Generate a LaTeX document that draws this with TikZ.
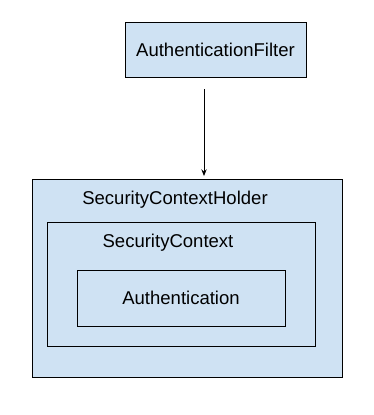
\documentclass[tikz,border=0pt]{standalone}
\usepackage{fontspec}
\setmainfont{Liberation Sans}
\usetikzlibrary{arrows.meta}
\definecolor{boxblue}{HTML}{CFE2F3}
\begin{document}
\begin{tikzpicture}[x=0.75pt,y=-0.75pt,
  box/.style={draw=black,line width=0.75pt,fill=boxblue},
  lbl/.style={font=\fontsize{13.9pt}{16pt}\selectfont,inner sep=0pt,anchor=center}]
\useasboundingbox[fill=white] (0,0) rectangle (374,415);
\draw[box] (125,22) rectangle (306,77);
\node[lbl] (filter) at (215.5,49.5) {AuthenticationFilter};
\coordinate (ftop) at (204,89);
\coordinate (hbot) at (204,176);
\draw[box] (32,179) rectangle (342,377);
\node[lbl] (holder) at (175,200) {SecurityContextHolder};
\draw[box] (47,222) rectangle (315,346);
\node[lbl] (ctx) at (168,243) {SecurityContext};
\draw[box] (77,270) rectangle (285,326);
\node[lbl] (auth) at (181,298) {Authentication};
\draw[line width=0.75pt,-{Stealth[length=5pt,width=4pt]}] (ftop) -- (hbot);
\end{tikzpicture}
\end{document}
